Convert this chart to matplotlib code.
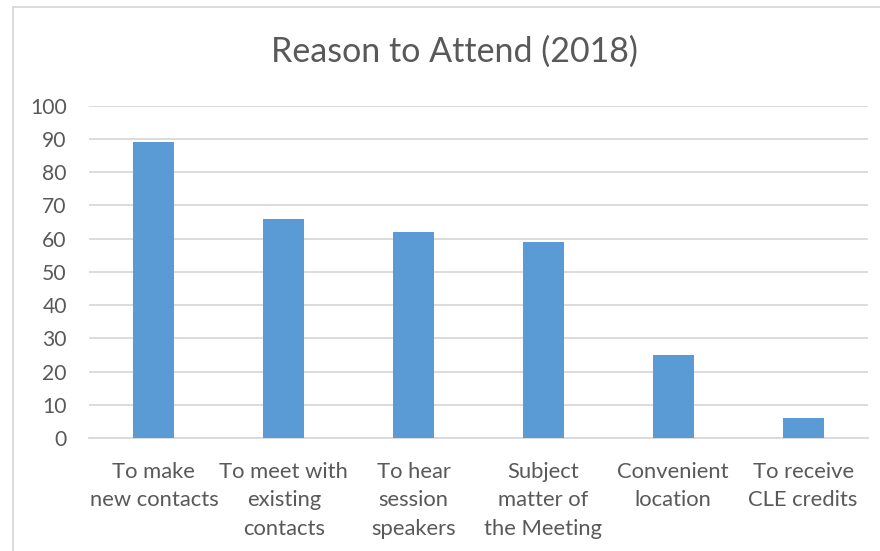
import matplotlib.pyplot as plt
from matplotlib.lines import Line2D

categories = ['To make\nnew contacts', 'To meet with\nexisting\ncontacts', 'To hear\nsession\nspeakers',
              'Subject\nmatter of\nthe Meeting', 'Convenient\nlocation', 'To receive\nCLE credits']
values = [89, 66, 62, 59, 25, 6]
yticks = [0, 10, 20, 30, 40, 50, 60, 70, 80, 90, 100]

txt = '#595959'
grid = '#D9D9D9'
plt.rcParams['font.family'] = ['Lato', 'DejaVu Sans']

fig = plt.figure(figsize=(8.8, 5.51), dpi=100)
ax = fig.add_axes([89/880, 1-438/551, (868-89)/880, (438-105.7)/551])

x = range(len(categories))
ax.bar(x, values, width=0.315, color='#5B9BD5', zorder=3)
ax.set_xlim(-0.5, len(categories)-0.5)
ax.set_ylim(0, 100)
ax.set_yticks(yticks)
ax.yaxis.grid(True, color=grid, linewidth=1.3, zorder=0)
ax.tick_params(axis='y', length=0, pad=16, labelsize=15.2, labelcolor=txt)
ax.set_xticks(list(x))
ax.set_xticklabels(categories, fontsize=15.8, color=txt, linespacing=1.55, va='top')
ax.tick_params(axis='x', length=0, pad=17)
for s in ['top', 'right', 'left']:
    ax.spines[s].set_visible(False)
ax.spines['bottom'].set_color(grid)
ax.spines['bottom'].set_linewidth(1.3)

fig.text(454/880, 1-52/551, 'Reason to Attend (2018)', ha='center', va='center', fontsize=24.5, color=txt)

# outer chart frame (cropped at right and bottom)
fig.add_artist(Line2D([13/880, 13/880], [0, 1-7/551], color=grid, linewidth=1.3))
fig.add_artist(Line2D([13/880, 1], [1-7/551, 1-7/551], color=grid, linewidth=1.3))

fig.savefig('out.png', dpi=100)
